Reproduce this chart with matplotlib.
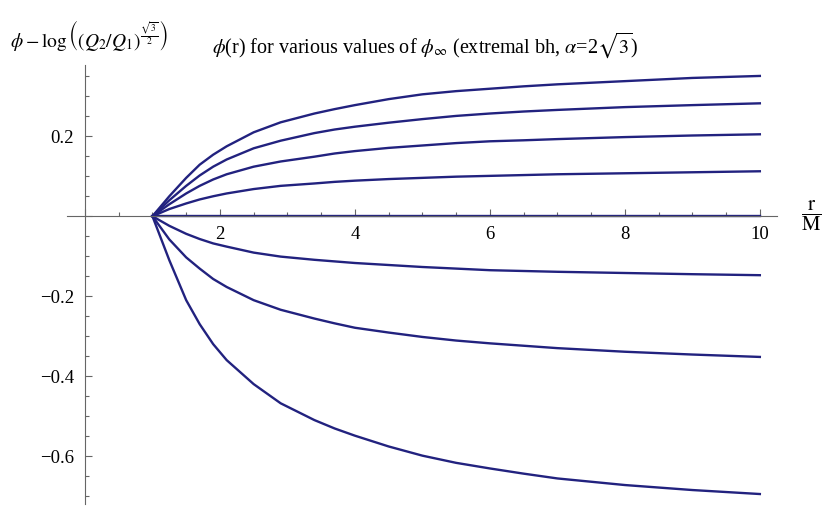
import matplotlib
matplotlib.use("Agg")
import matplotlib.pyplot as plt
from matplotlib.ticker import MultipleLocator, FuncFormatter

# r/M sample points and phi values, one list per phi_inf
r = [1.0, 1.25, 1.5, 1.7, 1.9, 2.1, 2.5, 2.9, 3.4, 3.7, 4.0, 4.5, 5.0, 5.5, 6.0, 6.5, 7.0, 8.0, 9.0, 10.0]
phi_a = [0, 0.050, 0.096, 0.129, 0.154, 0.175, 0.210, 0.235, 0.257, 0.268, 0.278, 0.293, 0.305, 0.313, 0.319, 0.325, 0.330, 0.338, 0.346, 0.351]
phi_b = [0, 0.040, 0.076, 0.102, 0.124, 0.142, 0.170, 0.189, 0.208, 0.217, 0.224, 0.234, 0.243, 0.251, 0.257, 0.262, 0.266, 0.273, 0.278, 0.2825]
phi_c = [0, 0.030, 0.057, 0.076, 0.092, 0.105, 0.124, 0.137, 0.149, 0.157, 0.163, 0.171, 0.177, 0.183, 0.1875, 0.190, 0.193, 0.198, 0.202, 0.205]
phi_d = [0, 0.018, 0.032, 0.042, 0.050, 0.057, 0.068, 0.076, 0.082, 0.086, 0.089, 0.093, 0.096, 0.099, 0.101, 0.103, 0.105, 0.1075, 0.110, 0.1125]
phi_e = [0] * 20
phi_f = [0, -0.024, -0.044, -0.057, -0.068, -0.076, -0.091, -0.101, -0.109, -0.113, -0.117, -0.122, -0.127, -0.131, -0.135, -0.137, -0.139, -0.142, -0.145, -0.1475]
phi_g = [0, -0.058, -0.103, -0.131, -0.157, -0.177, -0.210, -0.234, -0.256, -0.268, -0.279, -0.291, -0.302, -0.311, -0.318, -0.324, -0.330, -0.339, -0.346, -0.352]
phi_h = [0, -0.110, -0.210, -0.270, -0.320, -0.360, -0.420, -0.468, -0.510, -0.531, -0.549, -0.576, -0.599, -0.617, -0.631, -0.644, -0.656, -0.6725, -0.685, -0.695]
curves = [phi_a, phi_b, phi_c, phi_d, phi_e, phi_f, phi_g, phi_h]

plt.rcParams["font.family"] = "Liberation Serif"
plt.rcParams["mathtext.fontset"] = "stix"

fig = plt.figure(figsize=(8.3, 5.13), dpi=100)
ax = fig.add_axes([0.0804, 0.0175, 0.8554, 0.8555])

line_color = "#22227f"
for phi in curves:
    ax.plot(r, phi, color=line_color, lw=1.7, solid_joinstyle="round")

ax.set_xlim(-0.27, 10.25)
ax.set_ylim(-0.72, 0.378)

# Mathematica style axes crossing at the origin
for side in ["top", "right"]:
    ax.spines[side].set_visible(False)
ax.spines["left"].set_position(("data", 0))
ax.spines["bottom"].set_position(("data", 0))
for side in ["left", "bottom"]:
    ax.spines[side].set_color("#666666")
    ax.spines[side].set_linewidth(0.8)

ax.xaxis.set_major_locator(MultipleLocator(2))
ax.xaxis.set_minor_locator(MultipleLocator(0.5))
ax.yaxis.set_major_locator(MultipleLocator(0.2))
ax.yaxis.set_minor_locator(MultipleLocator(0.05))

def fmt_x(v, pos):
    return "" if abs(v) < 1e-9 else f"{v:g}"

def fmt_y(v, pos):
    if abs(v) < 1e-9:
        return ""
    return f"{v:.1f}".replace("-", "\u2212")

ax.xaxis.set_major_formatter(FuncFormatter(fmt_x))
ax.yaxis.set_major_formatter(FuncFormatter(fmt_y))
ax.tick_params(which="both", direction="in", color="#666666", labelsize=13.5, width=0.8)
ax.tick_params(which="major", length=5)
ax.tick_params(which="minor", length=3)
ax.tick_params(axis="x", pad=7)
ax.tick_params(axis="y", pad=8)

fig.text(0.012, 0.93, r"$\phi-\log\left((Q_2/Q_1)^{\frac{\sqrt{3}}{2}}\right)$",
         fontsize=14, ha="left", va="center")
fig.text(0.512, 0.912, r"$\phi$(r) for various values of $\phi_\infty$ (extremal bh, $\alpha$=2$\sqrt{3}$)",
         fontsize=14.5, ha="center", va="center")
fig.text(0.978, 0.58, r"$\dfrac{\mathrm{r}}{\mathrm{M}}$", fontsize=15, ha="center", va="center")

fig.savefig("out.png", dpi=100)
